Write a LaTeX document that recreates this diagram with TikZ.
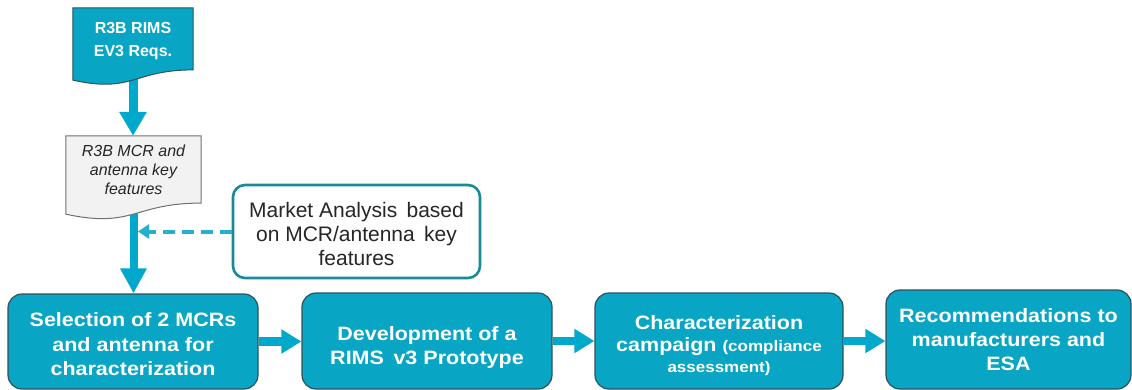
\documentclass[tikz,border=0pt]{standalone}
\usepackage{fontspec}
\setmainfont{Liberation Sans}
\usepackage{graphicx}
\usetikzlibrary{arrows.meta,calc}

\definecolor{flowteal}{RGB}{8,165,196}
\definecolor{arrowteal}{RGB}{0,169,204}
\definecolor{edgeslate}{RGB}{45,82,92}
\definecolor{marketedge}{RGB}{24,138,152}
\definecolor{dashteal}{RGB}{40,175,205}
\definecolor{paper}{RGB}{242,242,242}
\definecolor{papergray}{RGB}{112,112,112}
\definecolor{inkgray}{RGB}{38,38,38}

\pgfdeclarelayer{canvas}
\pgfdeclarelayer{connectors}
\pgfdeclarelayer{sheets}
\pgfsetlayers{canvas,connectors,sheets,main}

% centred lines of text: [lift]{vertical scale}{lines}
\newcommand\linestack[3][0pt]{%
  \raisebox{#1}[\height][\depth]{\scalebox{1}[#2]{\begin{tabular}{@{}c@{}}#3\end{tabular}}}}

% flowchart "document" outline over the area of a node
\newcommand\docwave[2]{%
  \path[#2] (#1.north west) -- (#1.north east)
    -- ($(#1.north east)!0.802!(#1.south east)$)
    .. controls ($(#1.north)!0.802!(#1.south)$) and ($(#1.north)!1.1075!(#1.south)$)
    .. ($(#1.north west)!0.934!(#1.south west)$) -- cycle;}

\tikzset{
  stepbox/.style={draw=edgeslate, line width=1.2pt, fill=flowteal,
    rounded corners=14pt, inner sep=0pt, text=white,
    font=\fontsize{21.5}{26.9}\selectfont\bfseries},
  notebox/.style={draw=marketedge, line width=2.6pt, fill=white,
    rounded corners=12pt, inner sep=0pt, text=inkgray,
    font=\fontsize{21}{24}\selectfont},
  sheet/.style={inner sep=0pt},
  hflow/.style={arrowteal, line width=8.5pt, -{Triangle[length=20pt,width=23pt]}},
}

\begin{document}
\begin{tikzpicture}[x=1pt,y=-1pt]
\begin{pgfonlayer}{canvas}
  \fill[white] (0,0) rectangle (1132,389);
\end{pgfonlayer}
\useasboundingbox (0,0) rectangle (1132,389);

% input documents
\node[sheet, minimum width=120pt, minimum height=77pt, text=white,
  font=\fontsize{16}{22.7}\selectfont\bfseries] (req) at (133,46.5)
  {\linestack[5.8pt]{1}{R3B RIMS\\EV3 Reqs.}};
\node[sheet, minimum width=135pt, minimum height=83.5pt, text=inkgray,
  font=\fontsize{16}{19}\selectfont\itshape] (feat) at (133.5,177.75)
  {\linestack[6.5pt]{1}{R3B MCR and\\antenna key\\features}};

\begin{pgfonlayer}{sheets}
  \docwave{req}{fill=flowteal, draw=edgeslate, line width=1pt}
  \docwave{feat}{fill=paper, draw=papergray, line width=1pt}
\end{pgfonlayer}

% side input
\node[notebox, minimum width=247pt, minimum height=93pt] (market) at (356.5,231.5)
  {\linestack[-5pt]{1}{Market Analysis\,\ based\\on MCR/antenna\,\ key\\features}};

% process steps
\node[stepbox, minimum width=250pt, minimum height=95pt] (select) at (133,341.5)
  {\linestack[-4.7pt]{0.9}{Selection of 2 MCRs\\and antenna for\\characterization}};
\node[stepbox, minimum width=250pt, minimum height=96pt] (proto) at (427,341)
  {\linestack[-6.4pt]{0.9}{Development of a\\RIMS\,\ v3 Prototype}};
\node[stepbox, minimum width=248pt, minimum height=96pt,
  font=\fontsize{21.5}{24.4}\selectfont\bfseries] (campaign) at (719,341)
  {\linestack[-5.6pt]{0.9}{Characterization\\campaign {\fontsize{17}{20}\selectfont(compliance}\\{\fontsize{17}{20}\selectfont assessment)}}};
\node[stepbox, minimum width=245pt, minimum height=99pt] (recommend) at (1008.5,339.5)
  {\linestack[-2.4pt]{0.9}{Recommendations to\\manufacturers and\\ESA}};

% connectors
\begin{pgfonlayer}{connectors}
  \draw[arrowteal, line width=9pt, -{Triangle[length=24pt,width=26pt]}]
    (req.center) -- (req.center |- feat.north);
  \draw[arrowteal, line width=8pt, -{Triangle[length=25pt,width=25pt]}]
    (feat.center) -- (feat.center |- select.north);
\end{pgfonlayer}
\coordinate (join) at ($(feat.center |- market.west)+(4.5,0)$);
\draw[dashteal, line width=4pt, dash pattern=on 12pt off 7pt,
  -{Triangle[length=11pt,width=14pt]}] (market.west) -- (join);

\draw[hflow] (select.east) -- (select.east -| proto.west);
\draw[hflow] (proto.east) -- (proto.east -| campaign.west);
\draw[hflow] (campaign.east) -- (campaign.east -| recommend.west);
\end{tikzpicture}
\end{document}
